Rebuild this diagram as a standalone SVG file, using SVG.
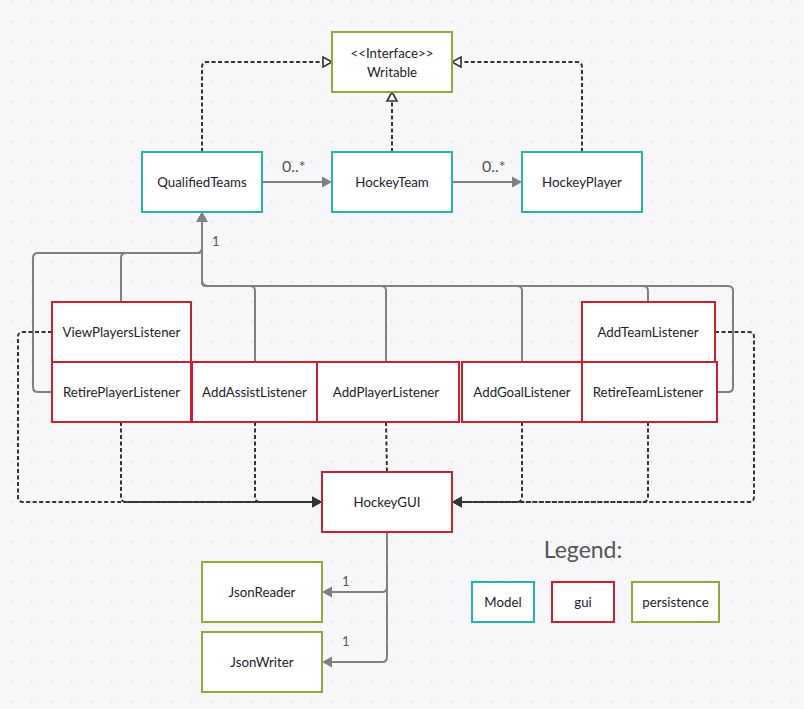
<svg xmlns="http://www.w3.org/2000/svg" width="804" height="709" viewBox="0 0 804 709">
<defs>
<pattern id="grid" width="20" height="20" patternUnits="userSpaceOnUse">
<circle cx="11.7" cy="1.7" r="1" fill="#dcdce2"/>
</pattern>
<marker id="gray" markerUnits="userSpaceOnUse" markerWidth="12" markerHeight="12" refX="0" refY="5.5" orient="auto" overflow="visible">
<path d="M0,0 L10,5.5 L0,11 z" fill="#808080"/>
</marker>
<marker id="dark" markerUnits="userSpaceOnUse" markerWidth="12" markerHeight="12" refX="0" refY="5.5" orient="auto" overflow="visible">
<path d="M0,0 L10,5.5 L0,11 z" fill="#333"/>
</marker>
<marker id="hollow" markerUnits="userSpaceOnUse" markerWidth="12" markerHeight="12" refX="0" refY="5" orient="auto" overflow="visible">
<path d="M0,0 L9,5 L0,10 z" fill="#fff" stroke="#333" stroke-width="1.6"/>
</marker>
</defs>
<style>
.box{fill:#fff;stroke-width:2}
.model{stroke:#26b3b0}
.gui{stroke:#c9222e}
.pers{stroke:#91a83a}
.t{font-family:Lato,"Liberation Sans",sans-serif;font-size:13.3px;fill:#1c1c2c;text-anchor:middle;dominant-baseline:central}
.lbl{font-family:Lato,"Liberation Sans",sans-serif;fill:#555}
.assoc{fill:none;stroke:#808080;stroke-width:2}
.dash{fill:none;stroke:#333;stroke-width:2;stroke-dasharray:4 2.5}
</style>
<rect width="804" height="709" fill="#f7f7f9"/>
<rect width="804" height="709" fill="url(#grid)"/>

<g id="connectors">
<path class="dash" d="M202,152 V67 Q202,62 207,62 H323" marker-end="url(#hollow)"/>
<path class="dash" d="M392,152 V101" marker-end="url(#hollow)"/>
<path class="dash" d="M582,152 V67 Q582,62 577,62 H461" marker-end="url(#hollow)"/>
<path class="assoc" d="M262,182 H322" marker-end="url(#gray)"/>
<path class="assoc" d="M452,182 H512" marker-end="url(#gray)"/>
<path class="assoc" d="M121,302 V258 Q121,253 126,253 H197 Q202,253 202,248 V222" marker-end="url(#gray)"/>
<path class="assoc" d="M52,392 H38 Q33,392 33,387 V258 Q33,253 38,253 H197 Q202,253 202,248 V222" marker-end="url(#gray)"/>
<path class="assoc" d="M255,362 V291 Q255,286 250,286 H207 Q202,286 202,281 V222" marker-end="url(#gray)"/>
<path class="assoc" d="M386,362 V291 Q386,286 381,286 H207 Q202,286 202,281 V222" marker-end="url(#gray)"/>
<path class="assoc" d="M522,362 V291 Q522,286 517,286 H207 Q202,286 202,281 V222" marker-end="url(#gray)"/>
<path class="assoc" d="M648,302 V291 Q648,286 643,286 H207 Q202,286 202,281 V222" marker-end="url(#gray)"/>
<path class="assoc" d="M717,392 H728 Q733,392 733,387 V291 Q733,286 728,286 H207 Q202,286 202,281 V222" marker-end="url(#gray)"/>
<path class="dash" d="M52,332 H23 Q18,332 18,337 V497 Q18,502 23,502 H312" marker-end="url(#dark)"/>
<path class="dash" d="M121,422 V497 Q121,502 126,502 H312" marker-end="url(#dark)"/>
<path class="dash" d="M255,422 V497 Q255,502 260,502 H312" marker-end="url(#dark)"/>
<path class="dash" d="M386,422 L387,472"/>
<path class="dash" d="M522,422 V497 Q522,502 517,502 H462" marker-end="url(#dark)"/>
<path class="dash" d="M648,422 V497 Q648,502 643,502 H462" marker-end="url(#dark)"/>
<path class="dash" d="M715,332 H749 Q754,332 754,337 V497 Q754,502 749,502 H462" marker-end="url(#dark)"/>
<path class="assoc" d="M387,532 V587 Q387,592 382,592 H332" marker-end="url(#gray)"/>
<path class="assoc" d="M387,532 V657 Q387,662 382,662 H332" marker-end="url(#gray)"/>
<text class="lbl" x="282" y="172" font-size="16">0..*</text>
<text class="lbl" x="482" y="172" font-size="16">0..*</text>
<text class="lbl" x="212" y="246" font-size="13">1</text>
<text class="lbl" x="342" y="586" font-size="13">1</text>
<text class="lbl" x="342" y="646" font-size="13">1</text>
</g>

<g id="Writable"><rect class="box pers" x="332" y="32" width="120" height="60"/><text class="t" x="392" y="53" font-size="11">&lt;&lt;Interface&gt;&gt;</text><text class="t" x="392" y="71.5">Writable</text></g>
<g id="QualifiedTeams"><rect class="box model" x="142" y="152" width="120" height="60"/><text class="t" x="202" y="182">QualifiedTeams</text></g>
<g id="HockeyTeam"><rect class="box model" x="332" y="152" width="120" height="60"/><text class="t" x="392" y="182">HockeyTeam</text></g>
<g id="HockeyPlayer"><rect class="box model" x="522" y="152" width="120" height="60"/><text class="t" x="582" y="182">HockeyPlayer</text></g>
<g id="ViewPlayersListener"><rect class="box gui" x="52" y="302" width="139" height="60"/><text class="t" x="121.5" y="332">ViewPlayersListener</text></g>
<g id="RetirePlayerListener"><rect class="box gui" x="52" y="362" width="139" height="60"/><text class="t" x="121.5" y="392">RetirePlayerListener</text></g>
<g id="AddAssistListener"><rect class="box gui" x="192" y="362" width="125" height="60"/><text class="t" x="254.5" y="392">AddAssistListener</text></g>
<g id="AddPlayerListener"><rect class="box gui" x="317" y="362" width="142" height="60"/><text class="t" x="386" y="392">AddPlayerListener</text></g>
<g id="AddGoalListener"><rect class="box gui" x="462" y="362" width="120" height="60"/><text class="t" x="522" y="392">AddGoalListener</text></g>
<g id="RetireTeamListener"><rect class="box gui" x="582" y="362" width="135" height="60"/><text class="t" x="648" y="392">RetireTeamListener</text></g>
<g id="AddTeamListener"><rect class="box gui" x="582" y="302" width="133" height="60"/><text class="t" x="648" y="332">AddTeamListener</text></g>
<g id="HockeyGUI"><rect class="box gui" x="322" y="472" width="130" height="60"/><text class="t" x="387" y="502">HockeyGUI</text></g>
<g id="JsonReader"><rect class="box pers" x="202" y="562" width="120" height="60"/><text class="t" x="262" y="592">JsonReader</text></g>
<g id="JsonWriter"><rect class="box pers" x="202" y="632" width="120" height="60"/><text class="t" x="262" y="662">JsonWriter</text></g>

<g id="legend">
<text class="lbl" x="583" y="558" font-size="23" text-anchor="middle">Legend:</text>
<g id="legend-model"><rect class="box model" x="472" y="582" width="62" height="40"/><text class="t" x="503" y="602">Model</text></g>
<g id="legend-gui"><rect class="box gui" x="552" y="582" width="62" height="40"/><text class="t" x="583" y="602">gui</text></g>
<g id="legend-persistence"><rect class="box pers" x="632" y="582" width="87" height="40"/><text class="t" x="675.5" y="602">persistence</text></g>
</g>
</svg>
